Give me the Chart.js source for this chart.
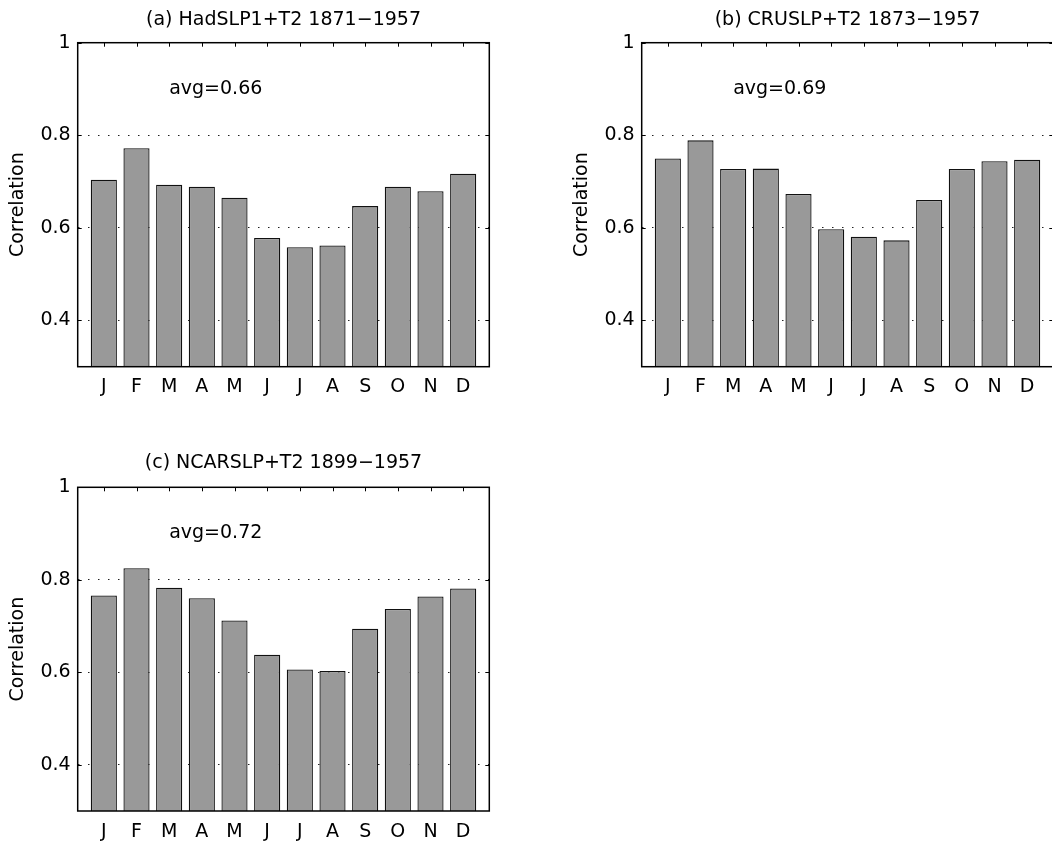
<!DOCTYPE html>
<html>
<head>
<meta charset="utf-8">
<script src="https://cdn.jsdelivr.net/npm/chart.js@4.4.1/dist/chart.umd.min.js"></script>
<style>
  html, body { margin: 0; padding: 0; background: #fff; width: 1052px; height: 845px; overflow: hidden; }
  canvas { position: absolute; }
</style>
</head>
<body>
<canvas id="pa" width="520" height="420" style="left:0px;top:0px;"></canvas>
<canvas id="pb" width="520" height="420" style="left:564px;top:0px;"></canvas>
<canvas id="pc" width="520" height="420" style="left:0px;top:445px;"></canvas>
<script>
// ---- data ----
const months = ['J','F','M','A','M','J','J','A','S','O','N','D'];
const hadValues  = [0.704, 0.772, 0.693, 0.689, 0.665, 0.578, 0.558, 0.562, 0.647, 0.689, 0.679, 0.717];
const cruValues  = [0.750, 0.789, 0.727, 0.728, 0.673, 0.597, 0.581, 0.573, 0.660, 0.727, 0.744, 0.747];
const ncarValues = [0.766, 0.825, 0.783, 0.760, 0.712, 0.638, 0.606, 0.603, 0.694, 0.737, 0.764, 0.781];
const panelTitles = ['(a) HadSLP1+T2 1871\u22121957', '(b) CRUSLP+T2 1873\u22121957', '(c) NCARSLP+T2 1899\u22121957'];
const avgLabels = ['avg=0.66', 'avg=0.69', 'avg=0.72'];
const yTickValues = [0.4, 0.6, 0.8, 1];
const yTickLabels = ['0.4', '0.6', '0.8', '1'];
const yAxisTitle = 'Correlation';

// ---- style / layout constants ----
const FONT = "'DejaVu Sans', sans-serif";
const FS = 19;
const Y_MIN = 0.3, Y_MAX = 1;
const X_MIN = 0.2, X_MAX = 12.8;
const NOTE_X = 3, NOTE_Y = 0.9;

const framePlugin = {
  id: 'frame',
  beforeDatasetsDraw(chart) {
    const {ctx, chartArea: a, scales: {x, y}} = chart;
    ctx.save();
    ctx.strokeStyle = '#000';
    ctx.lineWidth = 1;
    ctx.beginPath();
    const tl = 4;
    y.ticks.forEach(t => {
      const py = Math.round(y.getPixelForValue(t.value)) + 0.5;
      ctx.moveTo(a.left, py); ctx.lineTo(a.left + tl, py);
      ctx.moveTo(a.right, py); ctx.lineTo(a.right - tl, py);
    });
    x.ticks.forEach(t => {
      const px = Math.round(x.getPixelForValue(t.value)) + 0.5;
      ctx.moveTo(px, a.top); ctx.lineTo(px, a.top + tl);
      ctx.moveTo(px, a.bottom); ctx.lineTo(px, a.bottom - tl);
    });
    ctx.stroke();
    ctx.restore();
  },
  afterDatasetsDraw(chart) {
    const {ctx, chartArea: a} = chart;
    ctx.save();
    ctx.strokeStyle = '#000';
    ctx.lineWidth = 1.5;
    ctx.strokeRect(a.left, a.top, a.right - a.left, a.bottom - a.top);
    ctx.restore();
  },
  afterDraw(chart, args, opts) {
    const {ctx, scales: {x, y}} = chart;
    ctx.save();
    ctx.font = FS + 'px ' + FONT;
    ctx.fillStyle = '#000';
    ctx.textAlign = 'left';
    ctx.textBaseline = 'middle';
    ctx.fillText(opts.note, x.getPixelForValue(NOTE_X), y.getPixelForValue(NOTE_Y));
    ctx.restore();
  }
};

function makeChart(id, values, title, note, titlePad, xAxisHeight) {
  return new Chart(document.getElementById(id), {
    type: 'bar',
    data: {
      datasets: [{
        data: values.map((v, i) => ({x: i + 1, y: v})),
        backgroundColor: '#999999',
        borderColor: '#111111',
        borderWidth: 1.3,
        base: Y_MIN,
        barPercentage: 0.8,
        categoryPercentage: 1
      }]
    },
    options: {
      responsive: false,
      animation: false,
      devicePixelRatio: 1,
      layout: {padding: {left: 0, right: 30.7, top: 0, bottom: 0}},
      plugins: {
        legend: {display: false},
        tooltip: {enabled: false},
        title: {
          display: true, text: title, fullSize: false, color: '#000',
          font: {family: FONT, size: FS, weight: 'normal', lineHeight: 1.2},
          padding: titlePad
        },
        frame: {note: note}
      },
      scales: {
        x: {
          type: 'linear', min: X_MIN, max: X_MAX, offset: false,
          afterBuildTicks: s => { s.ticks = months.map((m, i) => ({value: i + 1})); },
          ticks: {
            autoSkip: false, maxRotation: 0, minRotation: 0, padding: 9.4, color: '#000',
            font: {family: FONT, size: FS},
            callback: (v, i) => months[i]
          },
          grid: {display: false, drawTicks: false, tickLength: 0, offset: false},
          border: {display: false},
          afterFit: s => { s.height = xAxisHeight; }
        },
        y: {
          type: 'linear', min: Y_MIN, max: Y_MAX,
          afterBuildTicks: s => { s.ticks = yTickValues.map(v => ({value: v})); },
          ticks: {
            padding: 7, color: '#000',
            font: {family: FONT, size: FS},
            callback: (v, i) => yTickLabels[i]
          },
          grid: {color: '#222', lineWidth: 1, drawTicks: false, tickLength: 0},
          border: {display: false, dash: [1.5, 8.5]},
          title: {
            display: true, text: yAxisTitle, color: '#000',
            font: {family: FONT, size: FS, lineHeight: 1.2},
            padding: {top: 7, bottom: 0}
          },
          afterFit: s => { s.width = 77.7; }
        }
      }
    },
    plugins: [framePlugin]
  });
}

makeChart('pa', hadValues, panelTitles[0], avgLabels[0], {top: 8.9, bottom: 11.0}, 53.3);
makeChart('pb', cruValues, panelTitles[1], avgLabels[1], {top: 8.9, bottom: 11.0}, 53.3);
makeChart('pc', ncarValues, panelTitles[2], avgLabels[2], {top: 6.3, bottom: 13.2}, 54);
</script>
</body>
</html>
